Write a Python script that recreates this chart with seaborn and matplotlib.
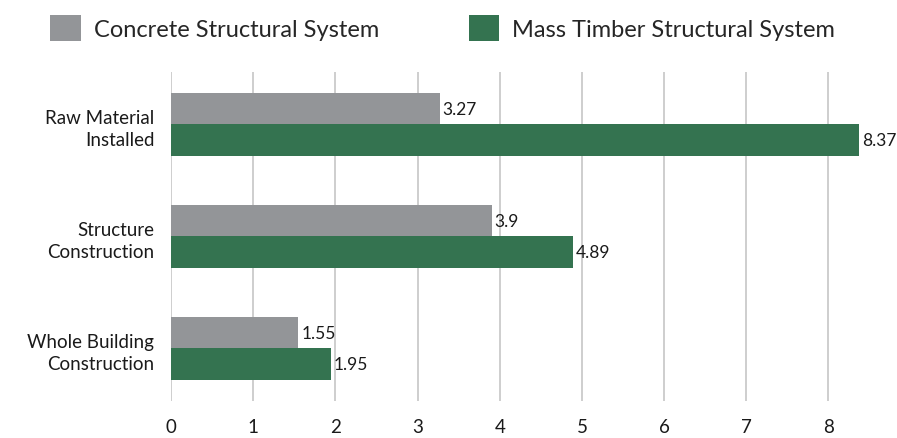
import matplotlib
matplotlib.use("Agg")
import matplotlib.pyplot as plt
import seaborn as sns
import pandas as pd

categories = ["Raw Material\nInstalled", "Structure\nConstruction", "Whole Building\nConstruction"]
concrete = [3.27, 3.9, 1.55]
timber = [8.37, 4.89, 1.95]
series_names = ["Concrete Structural System", "Mass Timber Structural System"]
colors = ["#939598", "#347350"]
x_ticks = [0, 1, 2, 3, 4, 5, 6, 7, 8]

df = pd.DataFrame({
    "category": categories * 2,
    "value": concrete + timber,
    "system": [series_names[0]] * 3 + [series_names[1]] * 3,
})

sns.set_style("white")
plt.rcParams["font.family"] = ["Lato", "DejaVu Sans"]

fig = plt.figure(figsize=(8.97, 4.39), dpi=100)
ax = fig.add_axes([0.1906, 0.0843, 0.788, 0.75])

sns.barplot(
    data=df, y="category", x="value", hue="system",
    palette=colors, orient="h", width=0.56, saturation=1,
    linewidth=0, ax=ax, legend=True,
)

for c in ax.containers:
    labels = [f"{v:g}" for v in c.datavalues]
    ax.bar_label(c, labels=labels, padding=2, fontsize=12.5, color="#1a1a1a")

ax.set_xlim(0, 8.6)
ax.set_ylim(2.47, -0.47)
ax.set_xticks(x_ticks)
ax.xaxis.grid(True, color="#c6c6c6", linewidth=1.2)
ax.set_axisbelow(True)
ax.set_xlabel("")
ax.set_ylabel("")
for s in ax.spines.values():
    s.set_visible(False)
ax.tick_params(axis="x", labelsize=13.5, length=0, pad=12, colors="#1a1a1a")
ax.tick_params(axis="y", labelsize=13.5, length=0, pad=12, colors="#1a1a1a")
for lbl in ax.get_yticklabels():
    lbl.set_horizontalalignment("right")
    lbl.set_multialignment("right")
    lbl.set_linespacing(1.35)

handles, labels = ax.get_legend_handles_labels()
ax.get_legend().remove()
fig.legend(
    handles, labels, loc="upper left", bbox_to_anchor=(0.032, 1.012),
    ncol=2, frameon=False, fontsize=17, handlelength=1.3, handleheight=1.3,
    handletextpad=0.55, columnspacing=3.8,
)

fig.savefig("out.png", dpi=100)
